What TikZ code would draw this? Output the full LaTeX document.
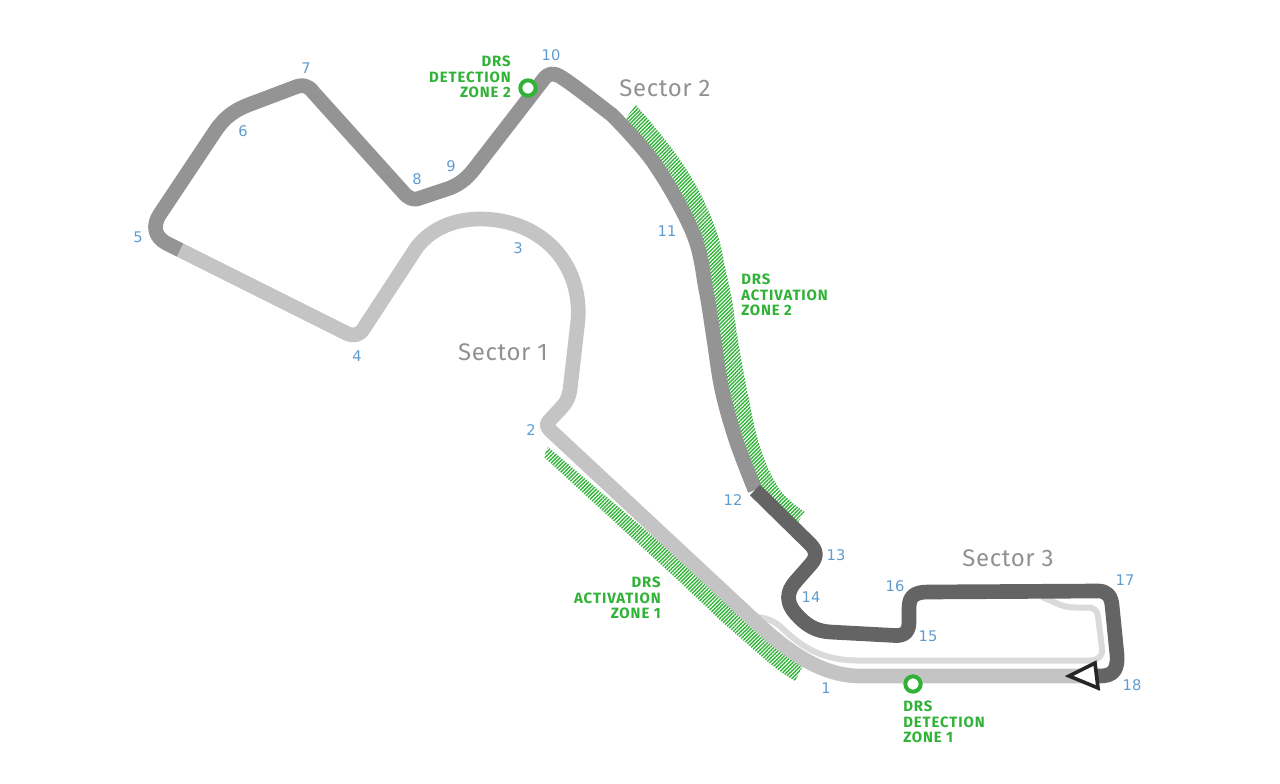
\documentclass[tikz,border=0pt]{standalone}
\usepackage{fontspec}
\usetikzlibrary{patterns.meta}
\setmainfont{Fira Sans}
\newfontfamily\numfont{DejaVu Sans}
\definecolor{seca}{HTML}{C4C4C4}
\definecolor{secb}{HTML}{949494}
\definecolor{secc}{HTML}{646464}
\definecolor{pit}{HTML}{DADADA}
\definecolor{drs}{HTML}{2FB236}
\definecolor{num}{HTML}{5F9BD1}
\definecolor{seclab}{HTML}{8F9194}
\tikzset{
 trk/.style={line width=11pt,line join=round},
 hatch/.style={pattern={Lines[angle=45,distance=2pt,line width=1.05pt]},pattern color=drs},
 turn/.style={text=num,font=\numfont\fontsize{11}{13}\selectfont,inner sep=0pt},
 sector/.style={text=seclab,font=\fontsize{18}{20}\selectfont\addfontfeature{LetterSpace=2.5},inner sep=0pt},
 drslab/.style={text=drs,font=\fontsize{11.2}{11.7}\selectfont\bfseries\addfontfeature{LetterSpace=6},inner sep=0pt,align=left},
 drsring/.style={circle,draw=drs,fill=white,line width=3pt,minimum size=11.5pt,inner sep=0pt},
}
\begin{document}
\begin{tikzpicture}[x=0.75pt,y=-0.75pt]
\useasboundingbox (0,0) rectangle (1280,784);
% DRS hatching
\fill[hatch] (548,447) -- (575,470) -- (757,625) .. controls (775,643) and (790,655) .. (804,664) -- (795,681) .. controls (780,672) and (770,664) .. (760,655) -- (720,620) -- (680,582) -- (544,457) -- cycle;
\fill[hatch] plot[smooth,tension=.6] coordinates {(636,105)(653,125)(678,157)(700,193)(717,233)(725,267)(732,300)(738,340)(747,390)(760,447)(780,490)(805,512)} -- plot[smooth,tension=.6] coordinates {(795,526)(755,490)(736,440)(722,390)(714,340)(706,290)(693,233)(654,163)(626,118)} -- cycle;
% pit lane
\draw[pit,line width=4.5pt,line join=round] (757,617) .. controls (768,618) and (776,622) .. (783,629) .. controls (805,650) and (825,660) .. (857,660.5) -- (1090,660.5) .. controls (1099,660) and (1103,656) .. (1102,648) -- (1098,617) .. controls (1097,610) and (1094,607.5) .. (1088,607.5) -- (1075,607.5) .. controls (1068,607.5) and (1062,606) .. (1056,603) -- (1042,597);
% sector 1
\draw[seca,trk] (1085,676) -- (860,676) .. controls (820,676) and (785,649) .. (757,623) -- (551,431) .. controls (546,426) and (546,424) .. (550,420) -- (562,407) .. controls (567,402) and (569,396) .. (570,390) -- (578,320) .. controls (582,262) and (540,219) .. (480,219) .. controls (455,219) and (432,228) .. (417,247) -- (364,328) .. controls (360,335) and (354,337) .. (346,333) -- (180,250);
% sector 2
\draw[secb,trk] (180,250) -- (166,243) .. controls (155,237) and (152,226) .. (160,214) -- (216,130) .. controls (225,117) and (235,110) .. (248,105) -- (293,88) .. controls (302,84) and (308,85) .. (313,92) -- (403,192) .. controls (408,198) and (413,201) .. (420,198) -- (450,188) .. controls (462,183) and (468,177) .. (475,168) -- (543,80) .. controls (548,73) and (553,72) .. (561,77) .. controls (575,86) and (595,102) .. (612,115) -- plot[smooth,tension=.6] coordinates {(612,115)(654,163)(693,233)(706,290)(714,340)(722,390)(736,440)(755,490)};
% sector 3
\draw[secc,trk] (755,490) -- (810,544) .. controls (817,551) and (817,557) .. (811,564) -- (796,581) .. controls (786,592) and (786,603) .. (796,614) .. controls (806,625) and (815,631) .. (830,632) -- (895,635.5) .. controls (905,636) and (909,631) .. (909,622) -- (909,608) .. controls (909,596) and (915,592) .. (928,592) -- (1098,591) .. controls (1107,591) and (1111,596) .. (1112,605) -- (1117,655) .. controls (1118,670) and (1113,676) .. (1100,676) -- (1090,676);
% start triangle
\draw[draw=black!85,line width=2.7pt,fill=white,line join=miter] (1069,676)--(1095,663)--(1098,688)--cycle;
% detection rings
\node[drsring] (det1) at (913,684) {};
\node[drsring] (det2) at (528,88) {};
% turns
\foreach \n/\x/\y in {1/826/688,2/531/430,3/518/248,4/357/356,5/138/237,6/243/131,7/306/68,8/417/179,9/451/166,10/551/55,11/667/231,12/733/500,13/836/555,14/811/597,15/928/636,16/895/586,17/1125/580,18/1132/685}
  \node[turn] (t\n) at (\x,\y) {\n};
% sectors
\node[sector] (s1) at (503,352) {Sector 1};
\node[sector] (s2) at (665,88) {Sector 2};
\node[sector] (s3) at (1008,558) {Sector 3};
% DRS labels
\node[drslab,align=right,anchor=east] (l1) at (511,77) {DRS\\DETECTION\\ZONE 2};
\node[drslab,anchor=west] (l2) at (741,295) {DRS\\ACTIVATION\\ZONE 2};
\node[drslab,align=right,anchor=east] (l3) at (661,598) {DRS\\ACTIVATION\\ZONE 1};
\node[drslab,anchor=west] (l4) at (903,722) {DRS\\DETECTION\\ZONE 1};
\end{tikzpicture}
\end{document}
